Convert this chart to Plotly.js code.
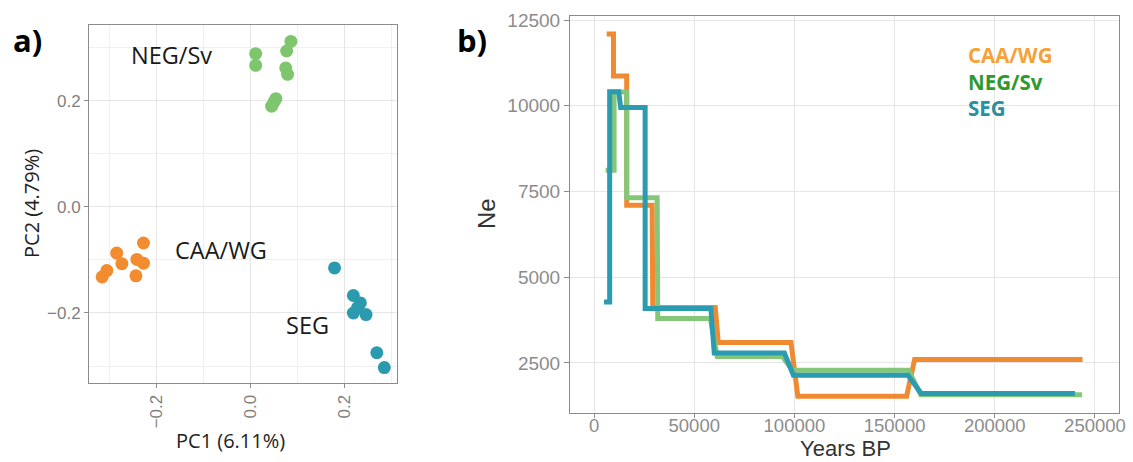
<!DOCTYPE html>
<html>
<head>
<meta charset="utf-8">
<script src="https://cdn.plot.ly/plotly-3.0.1.min.js"></script>
<style>
  html, body { margin: 0; padding: 0; background: #ffffff; }
  #chart { width: 1133px; height: 462px; }
</style>
</head>
<body>
<div id="chart"></div>
<script>
// ---------- Panel a: PCA ----------
const pcaCAA_x = [-0.228, -0.285, -0.274, -0.242, -0.228, -0.244, -0.306, -0.316];
const pcaCAA_y = [-0.068, -0.087, -0.107, -0.099, -0.106, -0.130, -0.120, -0.132];
const pcaNEG_x = [0.011, 0.011, 0.086, 0.077, 0.075, 0.079, 0.054, 0.050, 0.045];
const pcaNEG_y = [0.289, 0.267, 0.312, 0.294, 0.262, 0.250, 0.204, 0.198, 0.190];
const pcaSEG_x = [0.179, 0.219, 0.234, 0.219, 0.246, 0.228, 0.269, 0.285];
const pcaSEG_y = [-0.115, -0.167, -0.181, -0.200, -0.203, -0.190, -0.275, -0.303];
const groupNames = ["CAA/WG", "NEG/Sv", "SEG"];
const pcaLabelX = [-0.063, -0.168, 0.122];
const pcaLabelY = [-0.081, 0.287, -0.222];

// ---------- Panel b: Ne through time ----------
const yearsCAA = [6300, 9700, 9700, 16300, 16300, 29000, 29300, 60500, 62000, 98300, 101700, 156000, 160000, 243800];
const neCAA    = [12090, 12090, 10870, 10870, 7100, 7100, 4120, 4120, 3100, 3100, 1530, 1530, 2600, 2600];
const yearsNEG = [5800, 10000, 10000, 16300, 16300, 31500, 31800, 58000, 61500, 94000, 99000, 157000, 163000, 243600];
const neNEG    = [8120, 8120, 10400, 10400, 7320, 7320, 3800, 3800, 2690, 2690, 2290, 2290, 1570, 1570];
const yearsSEG = [5000, 7800, 7800, 12300, 13300, 25500, 25500, 58300, 60000, 95000, 99500, 156700, 163300, 240000];
const neSEG    = [4280, 4280, 10410, 10410, 9950, 9950, 4090, 4090, 2790, 2790, 2140, 2140, 1610, 1610];

const colPts = {CAA: "#F28C2E", NEG: "#7DC66D", SEG: "#2B9AAE"};
const colLn  = {CAA: "#F08A30", NEG: "#84C77A", SEG: "#2A9BB0"};
const legendCol = ["#F5A236", "#2E9A2E", "#2A8FA0"];

const W = 1133, H = 462;
const px = v => v / W;
const py = v => 1 - v / H;

const traces = [
  {x: pcaCAA_x, y: pcaCAA_y, type: "scatter", mode: "markers", xaxis: "x", yaxis: "y",
   marker: {size: 13, color: colPts.CAA}, hoverinfo: "skip"},
  {x: pcaNEG_x, y: pcaNEG_y, type: "scatter", mode: "markers", xaxis: "x", yaxis: "y",
   marker: {size: 13, color: colPts.NEG}, hoverinfo: "skip"},
  {x: pcaSEG_x, y: pcaSEG_y, type: "scatter", mode: "markers", xaxis: "x", yaxis: "y",
   marker: {size: 13, color: colPts.SEG}, hoverinfo: "skip"},
  {x: yearsCAA, y: neCAA, type: "scatter", mode: "lines", xaxis: "x2", yaxis: "y2",
   line: {color: colLn.CAA, width: 5, shape: "linear"}, hoverinfo: "skip"},
  {x: yearsNEG, y: neNEG, type: "scatter", mode: "lines", xaxis: "x2", yaxis: "y2",
   line: {color: colLn.NEG, width: 5, shape: "linear"}, hoverinfo: "skip"},
  {x: yearsSEG, y: neSEG, type: "scatter", mode: "lines", xaxis: "x2", yaxis: "y2",
   line: {color: colLn.SEG, width: 5, shape: "linear"}, hoverinfo: "skip"}
];

const gridCol = "#e6e6e6";
const frameCol = "#8c8c8c";
const tickFontA = {family: "Liberation Sans, Arial, sans-serif", size: 17, color: "#7f7f7f"};
const tickFontB = {family: "Liberation Sans, Arial, sans-serif", size: 19, color: "#8c8c8c"};
const tickFontBx = {family: "Liberation Sans, Arial, sans-serif", size: 18.5, color: "#8c8c8c"};

const annotations = [];
// group labels in panel a
for (let i = 0; i < groupNames.length; i++) {
  annotations.push({xref: "x", yref: "y", x: pcaLabelX[i], y: pcaLabelY[i], text: groupNames[i],
    showarrow: false, font: {family: "Open Sans, sans-serif", size: 23.5, color: "#1a1a1a"}});
}
// legend text in panel b (one block, one coloured line per group)
const legendText = groupNames.map((g, i) =>
  "<span style='color:" + legendCol[i] + "'><b>" + g + "</b></span>").join("<br>");
annotations.push({xref: "paper", yref: "paper", x: px(966), y: py(81.5), xanchor: "left", yanchor: "middle",
  text: legendText, align: "left", showarrow: false,
  font: {family: "Open Sans, sans-serif", size: 20.5, color: legendCol[0]}});
// panel letters
annotations.push({xref: "paper", yref: "paper", x: px(27), y: py(40), xanchor: "center", yanchor: "middle",
  text: "<b>a)</b>", showarrow: false, font: {family: "Open Sans, sans-serif", size: 31, color: "#000"}});
annotations.push({xref: "paper", yref: "paper", x: px(472), y: py(40), xanchor: "center", yanchor: "middle",
  text: "<b>b)</b>", showarrow: false, font: {family: "Open Sans, sans-serif", size: 31, color: "#000"}});
// axis titles
annotations.push({xref: "paper", yref: "paper", x: px(32), y: py(204), xanchor: "center", yanchor: "middle",
  text: "PC2 (4.79%)", textangle: -90, showarrow: false, font: {family: "Open Sans, sans-serif", size: 20, color: "#222"}});
annotations.push({xref: "paper", yref: "paper", x: px(230), y: py(440), xanchor: "center", yanchor: "middle",
  text: "PC1 (6.11%)", showarrow: false, font: {family: "Open Sans, sans-serif", size: 20, color: "#222"}});
annotations.push({xref: "paper", yref: "paper", x: px(486), y: py(214), xanchor: "center", yanchor: "middle",
  text: "Ne", textangle: -90, showarrow: false, font: {family: "Liberation Sans, Arial, sans-serif", size: 24, color: "#333"}});
annotations.push({xref: "paper", yref: "paper", x: px(845), y: 0, xanchor: "center", yanchor: "bottom", borderpad: 0,
  text: "Years BP", showarrow: false, font: {family: "Liberation Sans, Arial, sans-serif", size: 22, color: "#333"}});

const layout = {
  width: W, height: H,
  margin: {l: 0, r: 0, t: 0, b: 0},
  paper_bgcolor: "#ffffff", plot_bgcolor: "#ffffff",
  showlegend: false,
  xaxis: {
    domain: [px(89), px(397)], range: [-0.344, 0.312], anchor: "y",
    tick0: 0, dtick: 0.2, tickformat: ".1f", tickangle: -90,
    showgrid: true, gridcolor: gridCol, gridwidth: 1, zeroline: false,
    minor: {dtick: 0.1, tick0: 0, showgrid: true, gridcolor: "#f0f0f0", gridwidth: 1, ticks: ""},
    showline: true, linecolor: frameCol, linewidth: 1, mirror: true,
    ticks: "outside", ticklen: 4, tickcolor: frameCol, tickfont: tickFontA
  },
  yaxis: {
    domain: [1 - 383 / H, 1 - 25 / H], range: [-0.332, 0.343], anchor: "x",
    tick0: 0, dtick: 0.2, tickformat: ".1f",
    showgrid: true, gridcolor: gridCol, gridwidth: 1, zeroline: false,
    minor: {dtick: 0.1, tick0: 0, showgrid: true, gridcolor: "#f0f0f0", gridwidth: 1, ticks: ""},
    showline: true, linecolor: frameCol, linewidth: 1, mirror: true,
    ticks: "outside", ticklen: 4, tickcolor: frameCol, tickfont: tickFontA
  },
  xaxis2: {
    domain: [px(570), px(1119)], range: [-12000, 262000], anchor: "y2",
    tick0: 0, dtick: 50000, tickformat: "d", ticklabeloverflow: "allow", ticklabelstandoff: -8,
    showgrid: true, gridcolor: gridCol, gridwidth: 1, zeroline: false,
    showline: true, linecolor: frameCol, linewidth: 1, mirror: true,
    ticks: "outside", ticklen: 4, tickcolor: frameCol, tickfont: tickFontBx
  },
  yaxis2: {
    domain: [1 - 413 / H, 1 - 16 / H], range: [1041, 12617], anchor: "x2",
    tick0: 0, dtick: 2500, tickformat: "d",
    showgrid: true, gridcolor: gridCol, gridwidth: 1, zeroline: false,
    showline: true, linecolor: frameCol, linewidth: 1, mirror: true,
    ticks: "outside", ticklen: 5, tickcolor: frameCol, tickfont: tickFontB
  },
  annotations: annotations
};

Plotly.newPlot("chart", traces, layout, {displayModeBar: false, staticPlot: true});
</script>
</body>
</html>
